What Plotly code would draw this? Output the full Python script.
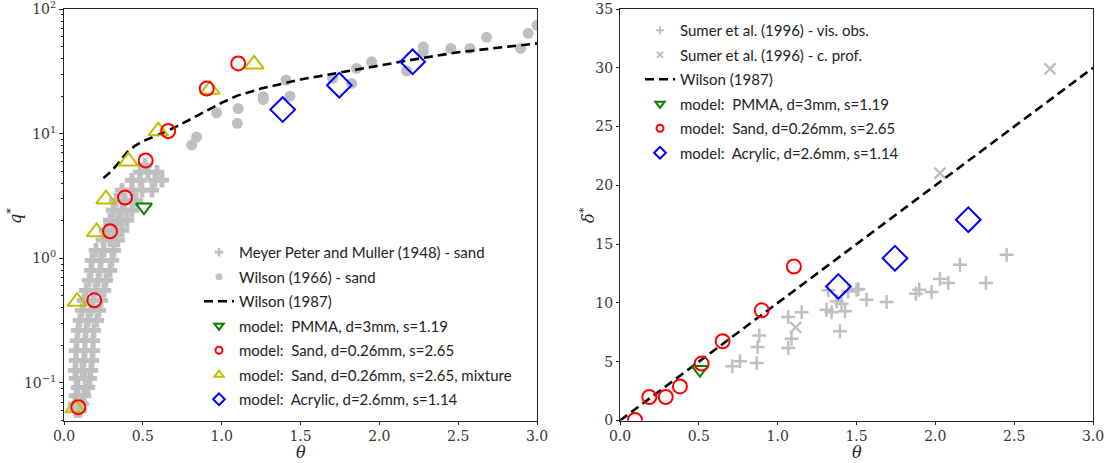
import plotly.graph_objects as go

# ---------------- Left panel data ----------------
mpm_theta = [0.076, 0.101, 0.070, 0.114, 0.076, 0.127, 0.089, 0.152, 0.076, 0.133, 0.165,
             0.070, 0.114, 0.171, 0.076, 0.127, 0.178, 0.076, 0.133, 0.184, 0.082, 0.133, 0.184,
             0.089, 0.140, 0.190, 0.101, 0.152, 0.209, 0.114, 0.171, 0.222, 0.127, 0.184, 0.235,
             0.140, 0.197, 0.254, 0.159, 0.216, 0.266, 0.171, 0.228, 0.292, 0.178, 0.235, 0.304,
             0.203, 0.254, 0.317, 0.247, 0.292, 0.342, 0.266, 0.317, 0.368, 0.292, 0.342, 0.400,
             0.311, 0.368, 0.431, 0.330, 0.387, 0.457, 0.368, 0.431, 0.495, 0.558, 0.431, 0.482,
             0.577, 0.621, 0.482, 0.533, 0.590, 0.514]
mpm_q = [0.060, 0.060, 0.068, 0.068, 0.079, 0.079, 0.092, 0.092, 0.109, 0.109, 0.109,
         0.126, 0.126, 0.126, 0.152, 0.152, 0.152, 0.182, 0.182, 0.182, 0.219, 0.219, 0.219,
         0.264, 0.264, 0.264, 0.318, 0.318, 0.318, 0.382, 0.382, 0.382, 0.460, 0.460, 0.460,
         0.553, 0.553, 0.553, 0.666, 0.666, 0.666, 0.801, 0.801, 0.801, 0.964, 0.964, 0.964,
         1.16, 1.16, 1.16, 1.40, 1.40, 1.40, 1.68, 1.68, 1.68, 2.02, 2.02, 2.02,
         2.43, 2.43, 2.43, 2.92, 2.92, 2.92, 3.52, 3.52, 3.52, 3.52, 4.23, 4.23,
         4.23, 4.23, 4.91, 4.91, 4.91, 5.58]

w66_theta = [0.81, 0.841, 0.968, 1.105, 1.099, 1.264, 1.264, 1.408, 1.433, 1.704, 1.824, 1.856,
             1.951, 2.173, 2.279, 2.279, 2.454, 2.575, 2.68, 2.896, 2.944, 3.0]
w66_q = [8.1, 9.4, 14.7, 15.9, 12.1, 18.8, 19.8, 26.9, 20.0, 27.8, 25.3, 33.4,
         37.7, 31.9, 49.8, 45.4, 48.3, 48.3, 59.3, 48.3, 63.8, 74.0]

w87_theta = [0.25, 0.30, 0.35, 0.40, 0.45, 0.50, 0.60, 0.70, 0.80, 0.90, 1.00, 1.10, 1.25,
             1.50, 1.75, 2.00, 2.25, 2.50, 2.75, 3.00]
w87_q = [4.4, 5.0, 5.9, 7.1, 8.0, 8.7, 9.8, 11.2, 13.0, 15.1, 17.7, 20.2, 23.0,
         27.2, 31.0, 35.0, 40.0, 45.0, 49.0, 53.0]

pmma_theta = [0.507]
pmma_q = [2.58]

sand_theta = [0.091, 0.192, 0.292, 0.387, 0.518, 0.661, 0.905, 1.105]
sand_q = [0.064, 0.46, 1.65, 3.07, 6.1, 10.5, 23.0, 36.6]

mix_theta = [0.070, 0.084, 0.207, 0.266, 0.408, 0.598, 0.926, 1.205]
mix_q = [0.063, 0.45, 1.63, 2.98, 6.0, 10.5, 22.6, 36.0]

acr_theta = [1.387, 1.746, 2.211]
acr_q = [15.6, 24.5, 37.7]

q_major_ticks = [0.1, 1, 10, 100]
q_major_labels = ["10<sup>−1</sup>", "10<sup>0</sup>", "10<sup>1</sup>", "10<sup>2</sup>"]
q_minor_ticks = [0.05, 0.06, 0.07, 0.08, 0.09, 0.2, 0.3, 0.4, 0.5, 0.6, 0.7, 0.8, 0.9,
                 2, 3, 4, 5, 6, 7, 8, 9, 20, 30, 40, 50, 60, 70, 80, 90]

# ---------------- Right panel data ----------------
vis_theta = [0.712, 0.761, 0.867, 0.873, 0.883, 1.067, 1.088, 1.067, 1.152, 1.31, 1.342, 1.321,
             1.374, 1.405, 1.427, 1.395, 1.50, 1.448, 1.512, 1.564, 1.691, 1.877, 1.898, 1.976,
             2.029, 2.082, 2.156, 2.321, 2.452]
vis_delta = [4.62, 5.04, 4.90, 6.26, 7.22, 6.17, 6.96, 8.80, 9.20, 9.43, 9.20, 11.07,
             10.14, 9.94, 9.29, 7.59, 11.13, 10.98, 11.19, 10.28, 10.08, 10.79, 11.13, 10.93,
             12.03, 11.69, 13.25, 11.69, 14.10]

cprof_theta = [1.114, 2.029, 2.727]
cprof_delta = [7.93, 21.04, 29.9]

w87r_theta = [0.0, 3.0]
w87r_delta = [0.0, 30.0]

pmma_r_theta = [0.507]
pmma_r_delta = [4.33]

sand_r_theta = [0.095, 0.186, 0.29, 0.38, 0.518, 0.651, 0.899, 1.103]
sand_r_delta = [0.05, 2.0, 2.0, 2.9, 4.84, 6.74, 9.37, 13.1]

acr_r_theta = [1.385, 1.744, 2.209]
acr_r_delta = [11.4, 13.8, 17.08]

# ---------------- Styles ----------------
GRAY = "#bfbfbf"
SERIF = "DejaVu Serif"
SANS = "Lato"
GREEN, RED, YEL, BLUE = "#008000", "#ff0000", "#bfbf00", "#0000ff"

fig = go.Figure()


def data(x, y, xa, ya, **kw):
    fig.add_trace(go.Scatter(x=x, y=y, xaxis=xa, yaxis=ya, showlegend=False, hoverinfo="skip", **kw))


def key(name, legend, rank, xa, ya, **kw):
    # legend-only entry (small symbol like the reference legend)
    fig.add_trace(go.Scatter(x=[None], y=[None], name=name, xaxis=xa, yaxis=ya, legend=legend,
                             legendrank=rank, legendgroup=name + legend, **kw))


# left data
data(mpm_theta, mpm_q, "x", "y", mode="markers", marker=dict(symbol="cross", size=12, color=GRAY))
data(w66_theta, w66_q, "x", "y", mode="markers", marker=dict(symbol="circle", size=11, color=GRAY))
data(w87_theta, w87_q, "x", "y", mode="lines", line=dict(color="black", width=2.6, dash="9px,5px"))
data(pmma_theta, pmma_q, "x", "y", mode="markers",
     marker=dict(symbol="triangle-down-open", size=14, color=GREEN, line=dict(width=2)))
data(mix_theta, mix_q, "x", "y", mode="markers",
     marker=dict(symbol="triangle-up-open", size=17, color=YEL, line=dict(width=2)))
data(sand_theta, sand_q, "x", "y", mode="markers",
     marker=dict(symbol="circle-open", size=14, color=RED, line=dict(width=2)))
data(acr_theta, acr_q, "x", "y", mode="markers",
     marker=dict(symbol="diamond-open", size=19, color=BLUE, line=dict(width=2)))

# right data
data(vis_theta, vis_delta, "x2", "y2", mode="markers",
     marker=dict(symbol="cross-thin-open", size=10, color=GRAY, line=dict(width=2.5, color=GRAY)))
data(cprof_theta, cprof_delta, "x2", "y2", mode="markers",
     marker=dict(symbol="x-thin-open", size=11, color=GRAY, line=dict(width=2.5, color=GRAY)))
data(w87r_theta, w87r_delta, "x2", "y2", mode="lines", line=dict(color="black", width=2.6, dash="9px,5px"))
data(pmma_r_theta, pmma_r_delta, "x2", "y2", mode="markers",
     marker=dict(symbol="triangle-down-open", size=14, color=GREEN, line=dict(width=2)))
data(sand_r_theta, sand_r_delta, "x2", "y2", mode="markers",
     marker=dict(symbol="circle-open", size=14, color=RED, line=dict(width=2)))
data(acr_r_theta, acr_r_delta, "x2", "y2", mode="markers",
     marker=dict(symbol="diamond-open", size=19, color=BLUE, line=dict(width=2)))

# legend keys, left
key("Meyer Peter and Muller (1948) - sand", "legend", 1, "x", "y", mode="markers",
    marker=dict(symbol="cross", size=7, color=GRAY))
key("Wilson (1966) - sand", "legend", 2, "x", "y", mode="markers",
    marker=dict(symbol="circle", size=7, color=GRAY))
key("Wilson (1987)", "legend", 3, "x", "y", mode="lines",
    line=dict(color="black", width=2.6, dash="9px,5px"))
key("model:  PMMA, d=3mm, s=1.19", "legend", 4, "x", "y", mode="markers",
    marker=dict(symbol="triangle-down-open", size=8, color=GREEN, line=dict(width=2)))
key("model:  Sand, d=0.26mm, s=2.65", "legend", 5, "x", "y", mode="markers",
    marker=dict(symbol="circle-open", size=7, color=RED, line=dict(width=2)))
key("model:  Sand, d=0.26mm, s=2.65, mixture", "legend", 6, "x", "y", mode="markers",
    marker=dict(symbol="triangle-up-open", size=8, color=YEL, line=dict(width=2)))
key("model:  Acrylic, d=2.6mm, s=1.14", "legend", 7, "x", "y", mode="markers",
    marker=dict(symbol="diamond-open", size=9, color=BLUE, line=dict(width=2)))

# legend keys, right
key("Sumer et al. (1996) - vis. obs.", "legend2", 1, "x2", "y2", mode="markers",
    marker=dict(symbol="cross-thin-open", size=6, color=GRAY, line=dict(width=2, color=GRAY)))
key("Sumer et al. (1996) - c. prof.", "legend2", 2, "x2", "y2", mode="markers",
    marker=dict(symbol="x-thin-open", size=6, color=GRAY, line=dict(width=2, color=GRAY)))
key("Wilson (1987)", "legend2", 3, "x2", "y2", mode="lines",
    line=dict(color="black", width=2.6, dash="9px,5px"))
key("model:  PMMA, d=3mm, s=1.19", "legend2", 4, "x2", "y2", mode="markers",
    marker=dict(symbol="triangle-down-open", size=8, color=GREEN, line=dict(width=2)))
key("model:  Sand, d=0.26mm, s=2.65", "legend2", 5, "x2", "y2", mode="markers",
    marker=dict(symbol="circle-open", size=7, color=RED, line=dict(width=2)))
key("model:  Acrylic, d=2.6mm, s=1.14", "legend2", 6, "x2", "y2", mode="markers",
    marker=dict(symbol="diamond-open", size=9, color=BLUE, line=dict(width=2)))

W, H = 1111, 463
ydom = [1 - 420.5 / H, 1 - 9 / H]
tickfont = dict(family=SERIF, size=14, color="#333")
titlefont = dict(family=SERIF, size=16, color="#222")
axis_common = dict(showline=True, linecolor="#222", linewidth=1, mirror=True, ticks="outside",
                   ticklen=3, tickcolor="#222", showgrid=False, zeroline=False, tickfont=tickfont,
                   automargin=False, ticklabeloverflow="allow")

legend_common = dict(font=dict(family=SANS, size=15, color="#222"), bgcolor="rgba(0,0,0,0)",
                     itemsizing="trace", tracegroupgap=2, traceorder="grouped",
                     xanchor="left", yanchor="top")

LOG_RANGE = [-1.30103, 2.0002]


def px_x(p):
    return p / W


def px_y(p):
    return 1 - p / H


fig.update_layout(
    width=W, height=H, margin=dict(l=0, r=0, t=0, b=0, autoexpand=False),
    plot_bgcolor="white", paper_bgcolor="white",
    xaxis=dict(domain=[px_x(64), px_x(537)], range=[0, 3], dtick=0.5, tickformat=".1f",
               anchor="y", **axis_common),
    yaxis=dict(domain=ydom, type="log", range=LOG_RANGE,
               tickvals=q_minor_ticks, ticktext=[""] * len(q_minor_ticks),
               anchor="x", **{k: v for k, v in axis_common.items() if k != "ticklen"}, ticklen=2),
    yaxis3=dict(domain=ydom, type="log", range=LOG_RANGE, overlaying="y", side="left",
                tickvals=q_major_ticks, ticktext=q_major_labels, ticks="outside", ticklen=4,
                tickcolor="#222", showgrid=False, zeroline=False, showline=False,
                tickfont=tickfont, automargin=False, anchor="x", ticklabeloverflow="allow"),
    xaxis2=dict(domain=[px_x(620), px_x(1093)], range=[0, 3], dtick=0.5, tickformat=".1f",
                anchor="y2", **axis_common),
    yaxis2=dict(domain=ydom, range=[0, 35], dtick=5, anchor="x2", **axis_common),
    legend=dict(x=px_x(199), y=px_y(236), **legend_common),
    legend2=dict(x=px_x(640), y=px_y(14), **legend_common),
    annotations=[
        dict(text="<i>θ</i>", x=px_x(300.5), y=px_y(442), xref="paper", yref="paper",
             showarrow=False, font=titlefont, xanchor="center", yanchor="top", borderpad=0),
        dict(text="<i>θ</i>", x=px_x(856.5), y=px_y(442), xref="paper", yref="paper",
             showarrow=False, font=titlefont, xanchor="center", yanchor="top", borderpad=0),
        dict(text="<i>q</i><sup>*</sup>", x=px_x(14), y=px_y(216), xref="paper", yref="paper",
             showarrow=False, font=titlefont, xanchor="center", yanchor="middle", textangle=-90),
        dict(text="<i>δ</i><sup>*</sup>", x=px_x(588), y=px_y(215), xref="paper", yref="paper",
             showarrow=False, font=titlefont, xanchor="center", yanchor="middle", textangle=-90),
    ],
)
# dummy trace so the overlaying log axis with labels is drawn
fig.add_trace(go.Scatter(x=[None], y=[None], xaxis="x", yaxis="y3", showlegend=False, hoverinfo="skip"))

fig.write_html("out.html", config={"displayModeBar": False},
               post_script="document.body.style.margin='0px';")
